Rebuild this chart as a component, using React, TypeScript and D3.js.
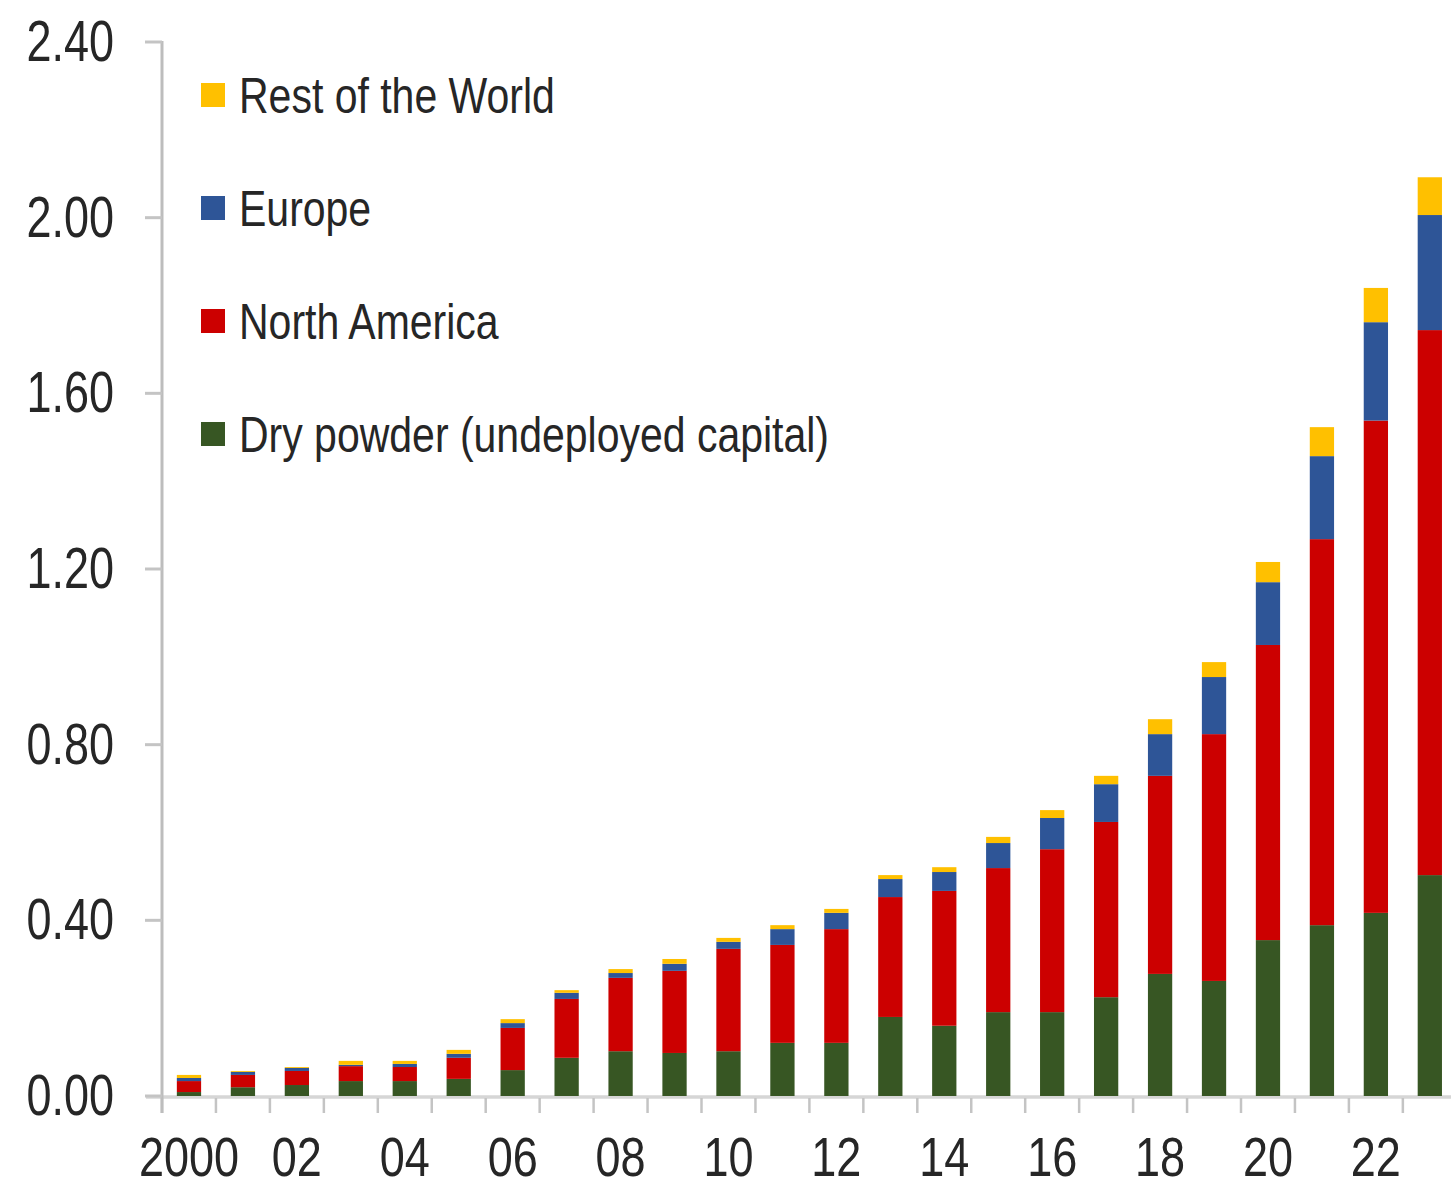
import React from "react";
import * as d3 from "d3";

// Global private capital by region, US$ trillions
const years = [
  "2000", "2001", "2002", "2003", "2004", "2005", "2006", "2007",
  "2008", "2009", "2010", "2011", "2012", "2013", "2014", "2015",
  "2016", "2017", "2018", "2019", "2020", "2021", "2022", "2023",
];
const dryPowder = [
  0.009, 0.02, 0.025, 0.034, 0.034, 0.039, 0.059, 0.087,
  0.102, 0.098, 0.102, 0.121, 0.121, 0.18, 0.16, 0.191,
  0.191, 0.225, 0.278, 0.262, 0.355, 0.389, 0.417, 0.503,
];
const northAmerica = [
  0.025, 0.028, 0.032, 0.034, 0.032, 0.048, 0.096, 0.134,
  0.167, 0.187, 0.233, 0.223, 0.259, 0.273, 0.307, 0.328,
  0.371, 0.399, 0.451, 0.562, 0.672, 0.879, 1.121, 1.241,
];
const europe = [
  0.007, 0.007, 0.007, 0.003, 0.007, 0.009, 0.011, 0.014,
  0.011, 0.016, 0.016, 0.036, 0.037, 0.041, 0.043, 0.057,
  0.071, 0.086, 0.095, 0.13, 0.143, 0.189, 0.224, 0.262,
];
const restOfWorld = [
  0.007, 0.002, 0.002, 0.009, 0.007, 0.009, 0.009, 0.006,
  0.009, 0.011, 0.009, 0.009, 0.009, 0.009, 0.011, 0.014,
  0.018, 0.019, 0.034, 0.034, 0.046, 0.066, 0.078, 0.086,
];
const yTicks = [0, 0.4, 0.8, 1.2, 1.6, 2.0, 2.4];
const xTickLabels = ["2000", "02", "04", "06", "08", "10", "12", "14", "16", "18", "20", "22"];

const seriesKeys = ["dry", "na", "eu", "row"];
const seriesColors: Record<string, string> = {
  dry: "#375623",
  na: "#CC0000",
  eu: "#2E5597",
  row: "#FFC000",
};
const legendItems = [
  { key: "row", label: "Rest of the World" },
  { key: "eu", label: "Europe" },
  { key: "na", label: "North America" },
  { key: "dry", label: "Dry powder (undeployed capital)" },
];

const W = 1451;
const H = 1188;
const FONT = "'Liberation Sans', Arial, Helvetica, sans-serif";
const TEXT = "#262626";

export default function App() {
  const rows = years.map((yr, i) => ({
    year: yr,
    dry: dryPowder[i],
    na: northAmerica[i],
    eu: europe[i],
    row: restOfWorld[i],
  }));

  const axisX = 162;
  const step = 53.95;
  const x = d3
    .scaleBand<string>()
    .domain(years)
    .range([axisX, axisX + step * years.length])
    .paddingInner(0.55)
    .paddingOuter(0.275);
  const y = d3.scaleLinear().domain([0, 2.4]).range([1096, 42]);

  const stacked = d3.stack<any>().keys(seriesKeys)(rows);
  const bw = x.bandwidth();
  const realStep = x.step();

  const boundaries = years.map((yr) => (x(yr) as number) + bw / 2 - realStep / 2);
  boundaries.push(boundaries[boundaries.length - 1] + realStep);

  const labelYears = years.filter((_, i) => i % 2 === 0);

  return (
    <svg
      width={W}
      height={H}
      style={{ position: "absolute", left: 0, top: 0, background: "#fff" }}
      fontFamily={FONT}
    >
      {/* x axis baseline */}
      <line x1={146} x2={W} y1={y(0) + 1} y2={y(0) + 1} stroke="#D6D6D6" strokeWidth={3.5} />
      {/* x ticks at category boundaries */}
      {boundaries.map((bx, i) => (
        <line key={"xt" + i} x1={bx} x2={bx} y1={y(0) + 2} y2={y(0) + 17} stroke="#C4C4C4" strokeWidth={2.5} />
      ))}
      {/* y axis */}
      <line x1={axisX} x2={axisX} y1={y(2.4) - 1} y2={y(0) + 17} stroke="#BDBDBD" strokeWidth={3} />
      {yTicks.map((t) => (
        <line key={"yt" + t} x1={145} x2={axisX} y1={y(t)} y2={y(t)} stroke="#C4C4C4" strokeWidth={3} />
      ))}
      {yTicks.map((t) => (
        <text
          key={"yl" + t}
          transform={`translate(114, ${y(t) + 19}) scale(1, 1.28)`}
          textAnchor="end"
          fontSize={45}
          fill={TEXT}
        >
          {t.toFixed(2)}
        </text>
      ))}
      {/* stacked bars */}
      {stacked.map((s) => (
        <g key={s.key} fill={seriesColors[s.key]}>
          {s.map((d, i) => (
            <rect
              key={years[i]}
              x={x(years[i])}
              width={bw}
              y={y(d[1])}
              height={Math.max(0, y(d[0]) - y(d[1]))}
            />
          ))}
        </g>
      ))}
      {/* x tick labels */}
      {labelYears.map((yr, i) => (
        <text
          key={"xl" + yr}
          transform={`translate(${(x(yr) as number) + bw / 2}, 1176) scale(1, 1.25)`}
          textAnchor="middle"
          fontSize={45}
          fill={TEXT}
        >
          {xTickLabels[i]}
        </text>
      ))}
      {/* legend */}
      {legendItems.map((item, i) => {
        const cy = 95 + i * 113;
        return (
          <g key={item.key}>
            <rect x={201} y={cy - 12} width={24} height={24} fill={seriesColors[item.key]} />
            <text
              transform={`translate(239, ${cy + 18}) scale(1, 1.23)`}
              fontSize={41}
              fill={TEXT}
            >
              {item.label}
            </text>
          </g>
        );
      })}
    </svg>
  );
}
